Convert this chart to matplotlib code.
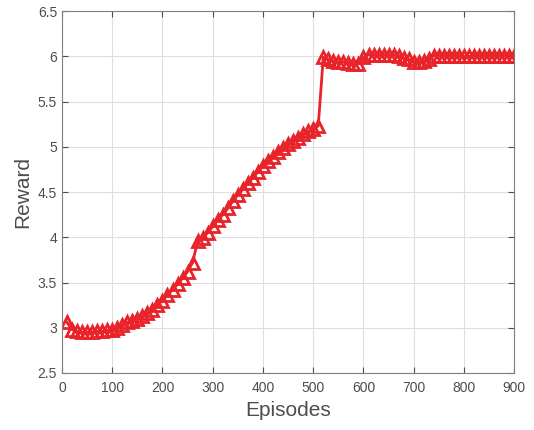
import numpy as np
import matplotlib
matplotlib.use('Agg')
import matplotlib.pyplot as plt

plt.rcParams['font.family'] = ['Liberation Sans', 'DejaVu Sans']

# episodes (one marker every 10)
episodes = np.arange(10, 901, 10)

reward = [
    3.06, 2.98, 2.96, 2.95, 2.95, 2.95, 2.96, 2.96, 2.97, 2.98,   # 10-100
    3.00, 3.03, 3.06, 3.08, 3.10, 3.13, 3.16, 3.20, 3.25, 3.30,   # 110-200
    3.36, 3.42, 3.48, 3.55, 3.62, 3.72, 3.96, 3.99, 4.05, 4.12,   # 210-300
    4.19, 4.25, 4.32, 4.40, 4.47, 4.53, 4.60, 4.66, 4.72, 4.79,   # 310-400
    4.84, 4.89, 4.94, 4.99, 5.03, 5.07, 5.10, 5.14, 5.17, 5.20,   # 410-500
    5.23, 5.99, 5.97, 5.95, 5.94, 5.94, 5.93, 5.92, 5.92, 5.99,   # 510-600
    6.02, 6.02, 6.02, 6.02, 6.02, 6.02, 6.01, 5.98, 5.97, 5.94,   # 610-700
    5.94, 5.95, 5.97, 6.01, 6.01, 6.01, 6.01, 6.01, 6.01, 6.00,   # 710-800
    6.00, 6.01, 6.01, 6.01, 6.01, 6.01, 6.01, 6.01, 6.01, 6.00,   # 810-900
]

fig = plt.figure(figsize=(5.34, 4.30), dpi=100)
ax = fig.add_axes([0.116, 0.1326, 0.847, 0.8414])

ax.plot(episodes, reward, color='#E8232A', linewidth=2, marker='^',
        markersize=8, markerfacecolor='none', markeredgewidth=2)

ax.set_xlim(0, 900)
ax.set_ylim(2.5, 6.5)
ax.set_xticks(np.arange(0, 901, 100))
ax.set_yticks(np.arange(2.5, 6.51, 0.5))
ax.set_yticklabels(['2.5', '3', '3.5', '4', '4.5', '5', '5.5', '6', '6.5'])

ax.grid(True, color='#DFDFDF', linewidth=0.8)
ax.set_axisbelow(True)
for s in ax.spines.values():
    s.set_color('#7F7F7F')
ax.tick_params(direction='in', top=True, right=True, colors='#4D4D4D',
               labelsize=10, length=4)
ax.tick_params(axis='x', pad=6)

ax.set_xlabel('Episodes', fontsize=15, color='#4D4D4D')
ax.set_ylabel('Reward', fontsize=15, color='#4D4D4D')

plt.savefig('out.png', dpi=100)
